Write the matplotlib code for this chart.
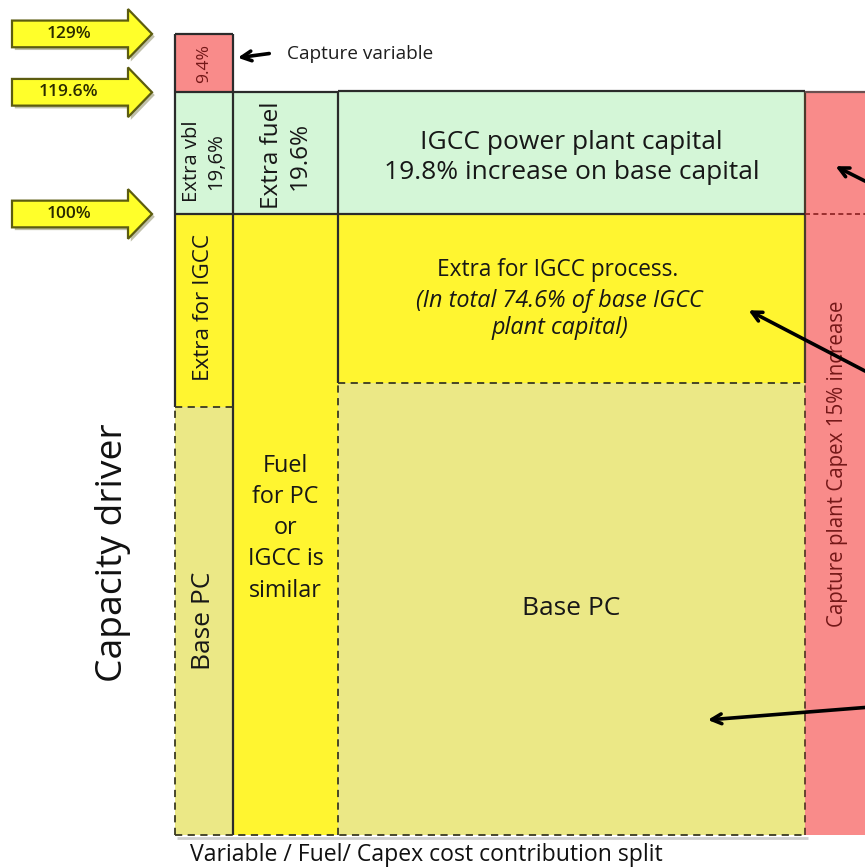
import numpy as np
import matplotlib
matplotlib.use("Agg")
import matplotlib.pyplot as plt
from matplotlib.patches import FancyArrow
import matplotlib.patheffects as pe

plt.rcParams['font.family'] = ['Open Sans', 'DejaVu Sans']

# Cost components (column widths) and capacity stacks (% of base capacity)
columns = ["Variable", "Fuel", "Capex", "Capture capex"]
col_widths = [5.8, 10.5, 46.7, 7.0]

variable_stack = [69.0, 31.0, 19.6, 9.4]      # Base PC, Extra for IGCC, Extra vbl, Capture variable
fuel_stack = [100.0, 19.6]                     # Fuel for PC/IGCC, Extra fuel
capex_stack = [72.8, 27.2, 19.8]               # Base PC, Extra for IGCC process, IGCC power plant capital
capture_stack = [100.0, 19.6]                  # Capture plant capex

capacity_marks = [129.0, 119.6, 100.0]
capacity_labels = ["129%", "119.6%", "100%"]

PINK = "#F98B8A"
GREEN = "#D4F6D7"
YELLOW = "#FFF530"
KHAKI = "#EBE886"
EDGE = "#2b2b2b"

fig = plt.figure(figsize=(8.65, 8.67), dpi=100)
ax = fig.add_axes([0, 0, 1, 1])
ax.set_xlim(-17.5, 69.0)
ax.set_ylim(-5.15, 134.46)
ax.axis("off")

x_edges = np.concatenate([[0.0], np.cumsum(col_widths)])

def stack(ax, i, heights, colors):
    bottoms = np.concatenate([[0.0], np.cumsum(heights)[:-1]])
    ax.bar([x_edges[i]] * len(heights), heights, width=col_widths[i],
           bottom=bottoms, color=colors, align="edge", linewidth=0, zorder=1)
    return np.cumsum(heights)

v_tops = stack(ax, 0, variable_stack, [KHAKI, YELLOW, GREEN, PINK])
f_tops = stack(ax, 1, fuel_stack, [YELLOW, GREEN])
c_tops = stack(ax, 2, capex_stack, [KHAKI, YELLOW, GREEN])
p_tops = stack(ax, 3, capture_stack, [PINK, PINK])

solid = dict(color=EDGE, lw=1.6, zorder=3)
dashed = dict(color="#3a3a22", lw=1.3, linestyles=(0, (4, 3)), zorder=3)

# cell outlines: solid around the IGCC / fuel cells, dashed around the base PC cells
ax.vlines(x_edges[0], v_tops[0], v_tops[3], **solid)
ax.vlines(x_edges[0], 0, v_tops[0], **dashed)
ax.vlines(x_edges[1], 0, v_tops[3], **solid)
ax.vlines(x_edges[2], c_tops[0], c_tops[2], **solid)
ax.vlines(x_edges[2], 0, c_tops[0], **dashed)
ax.vlines(x_edges[3], c_tops[0], c_tops[2], color="#4a3a2a", lw=1.6, zorder=3)
ax.vlines(x_edges[3], 0, c_tops[0], color="#5a3a2a", lw=1.3, linestyles=(0, (4, 3)), zorder=3)

ax.hlines(v_tops[3], x_edges[0], x_edges[1], **solid)
ax.hlines(v_tops[2], x_edges[0], x_edges[1], **solid)
ax.hlines(f_tops[1], x_edges[1], x_edges[2], **solid)
ax.hlines(c_tops[2], x_edges[2], x_edges[3], **solid)
ax.hlines(p_tops[1], x_edges[3], x_edges[4], color="#6a5050", lw=1.6, zorder=3)
ax.hlines(v_tops[1], x_edges[0], x_edges[1], **solid)
ax.hlines(f_tops[0], x_edges[1], x_edges[2], **solid)
ax.hlines(c_tops[1], x_edges[2], x_edges[3], **solid)
ax.hlines(p_tops[0], x_edges[3], x_edges[4], color="#8a2020", lw=1.2,
          linestyles=(0, (3, 2)), zorder=3)
ax.hlines(v_tops[0], x_edges[0], x_edges[1], **dashed)
ax.hlines(c_tops[0], x_edges[2], x_edges[3], **dashed)
ax.hlines(0, x_edges[0], x_edges[3], **dashed)
ax.hlines(-0.45, x_edges[0] + 0.2, x_edges[3] + 0.3, color="#b0b0b0", lw=2.0, alpha=0.6, zorder=0)

def mid(a, b):
    return (a + b) / 2

cx = [mid(x_edges[i], x_edges[i + 1]) for i in range(4)]
TXT = "#171717"
RED = "#741818"

# column 1 labels
ax.text(cx[0], mid(0, v_tops[0]), "Base PC", rotation=90, ha="center", va="center", fontsize=19, color=TXT)
ax.text(cx[0], mid(v_tops[0], v_tops[1]) + 0.4, "Extra for IGCC", rotation=90, ha="center", va="center",
        fontsize=16.2, color=TXT)
ax.text(cx[0], mid(v_tops[1], v_tops[2]) - 1.3, "Extra vbl\n19,6%", rotation=90, ha="center", va="center",
        fontsize=14.6, color=TXT, linespacing=1.3)
ax.text(cx[0], mid(v_tops[2], v_tops[3]), "9.4%", rotation=90, ha="center", va="center", fontsize=12.6, color=RED)

# column 2 labels
ax.text(cx[1], mid(0, f_tops[0]) - 0.6, "Fuel\nfor PC\nor\nIGCC is\nsimilar", ha="center", va="center",
        fontsize=16.8, color=TXT, linespacing=1.4)
ax.text(cx[1], mid(f_tops[0], f_tops[1]) - 0.4, "Extra fuel\n19.6%", rotation=90, ha="center", va="center",
        fontsize=17.5, color=TXT, linespacing=1.2)

# column 3 labels
ax.text(cx[2], mid(c_tops[1], c_tops[2]) - 0.8, "IGCC power plant capital\n19.8% increase on base capital",
        ha="center", va="center", fontsize=19, color=TXT, linespacing=1.3)
ax.text(cx[2] - 1.4, 91.0, "Extra for IGCC process.", ha="center", va="center", fontsize=16.3, color=TXT)
ax.text(cx[2] - 1.2, 83.8, "(In total 74.6% of base IGCC\nplant capital)", ha="center", va="center",
        fontsize=16.8, color=TXT, style="italic", linespacing=1.15)
ax.text(cx[2], mid(0, c_tops[0]), "Base PC", ha="center", va="center", fontsize=19, color=TXT)

# capture column label
ax.text(cx[3] - 0.2, mid(0, p_tops[1]), "Capture plant Capex 15% increase", rotation=90,
        ha="center", va="center", fontsize=14.8, color=RED)

# captions
ax.text(-6.2, 45.4, "Capacity driver", rotation=90, ha="center", va="center", fontsize=26.8, color="#111111")
ax.text(1.5, -3.25, "Variable / Fuel/ Capex cost contribution split", ha="left", va="center",
        fontsize=16.6, color="#111111")

# capacity level arrows
for val, lab in zip(capacity_marks, capacity_labels):
    arr = FancyArrow(-16.3, val, 14.0, 0, width=4.3, head_width=8.0, head_length=2.4,
                     length_includes_head=True, facecolor="#FFFF2A", edgecolor="#5c5c10", lw=1.6, zorder=4,
                     path_effects=[pe.withSimplePatchShadow(offset=(2, -2), alpha=0.35)])
    ax.add_patch(arr)
    ax.text(-10.6, val, lab, ha="center", va="center", fontsize=12.5, fontweight="semibold",
            color="#2a2a00", zorder=5)

# pointers
ap = dict(arrowstyle="->,head_length=0.7,head_width=0.35", lw=2.6, color="black")
ax.annotate("", xy=(6.0, 125.1), xytext=(9.7, 125.9), arrowprops=ap, zorder=6)
ax.text(11.2, 125.7, "Capture variable", ha="left", va="center", fontsize=13.7, color="#1e1e1e")
ax.annotate("", xy=(65.8, 107.9), xytext=(69.5, 104.9), arrowprops=ap, annotation_clip=False, zorder=6)
ax.annotate("", xy=(57.1, 84.7), xytext=(69.5, 74.3), arrowprops=ap, annotation_clip=False, zorder=6)
ax.annotate("", xy=(53.0, 18.5), xytext=(69.5, 20.6), arrowprops=ap, annotation_clip=False, zorder=6)

fig.savefig("out.png", dpi=100)
